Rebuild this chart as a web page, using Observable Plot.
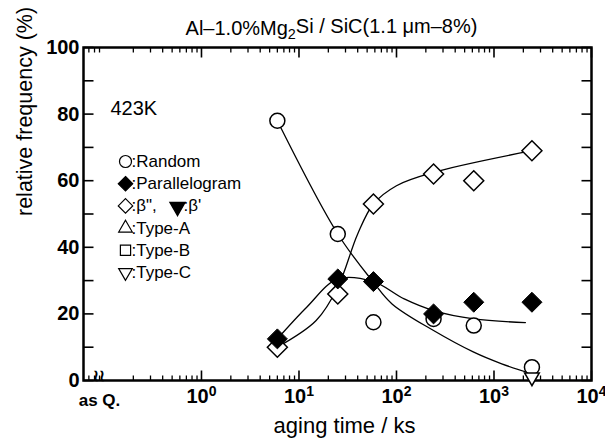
<!DOCTYPE html>
<html><head><meta charset="utf-8">
<script src="https://cdn.jsdelivr.net/npm/d3@7"></script>
<script src="https://cdn.jsdelivr.net/npm/@observablehq/plot@0.6"></script>
<style>body{margin:0;background:#fff} svg{display:block}</style>
</head><body><div id="chart"></div>
<script>
// ---- text ----
const title = "Al–1.0%Mg_2Si / SiC(1.1 μm–8%)";
const yLabel = "relative frequency (%)";
const xLabel = "aging time / ks";
const asQLabel = "as Q.";
const tempLabel = "423K";
// legend rows (row 3 carries a second entry)
const legendSymbols = ["circle", "diamond2", "diamond2", "triangle2", "square2", "triangle2"];
const legendFills = ["white", "black", "white", "white", "white", "white"];
const legendRotate = [0, 0, 0, 0, 0, 180];
const legendTexts = [":Random", ":Parallelogram", ":β\",", ":Type-A", ":Type-B", ":Type-C"];
const legendExtraText = ":β'";

// ---- measured data ----
const times = [6, 25, 58, 240, 620, 2450];
const randomV = [78, 44, 17.5, 18.5, 16.5, 4];
const paraV = [12.5, 30.5, 29.7, 20, 23.5, 23.5];
const betaV = [10, 26, 53, 62, 60, 69];
const typeCTimes = [2450];
const typeCV = [1];

// ---- hand-drawn fit curves ----
const randomFitT = [6, 25, 58, 90, 240, 620, 1200, 2450];
const randomFitV = [78, 44, 29.5, 23, 15, 8.5, 5, 2];
const paraFitT = [6, 12, 25, 58, 120, 240, 620, 2100];
const paraFitV = [12.5, 22, 30.5, 29.7, 24.5, 21, 18.5, 17.4];
const betaFitT = [6, 15, 25, 40, 58, 100, 240, 2450];
const betaFitV = [10, 18, 28, 44, 53, 58.5, 62.5, 69];

// ---- ticks ----
const yMajor = [0, 20, 40, 60, 80, 100];
const yMinor = [10, 30, 50, 70, 90];
const xMajor = [1, 10, 100, 1000, 10000];
const xDecades = [0.01, 0.1, 1, 10, 100, 1000];
const xMults = [2, 3, 4, 5, 6, 7, 8, 9];

const xMin = Math.pow(10, -1.21), xMax = 1e4;
const xMinor = xDecades.flatMap(d => xMults.map(m => m * d)).filter(v => v >= xMin && v <= xMax);

const W = 605, H = 444, ML = 83, MR = 14, MT = 47, MB = 64;

const zip = (a, b) => a.map((t, i) => ({t, v: b[i]}));
const FONT = "'Liberation Sans', Arial, Helvetica, sans-serif";
const NARROW = "'Liberation Sans Narrow', 'Arial Narrow', 'Liberation Sans', sans-serif";

// custom tick "symbols": a short segment drawn from the anchor point
const mkTick = (dx, dy) => ({draw(ctx) { ctx.moveTo(0, 0); ctx.lineTo(dx, dy); }});
const tickUpMaj = mkTick(0, -10), tickUpMin = mkTick(0, -5);
const tickDownMaj = mkTick(0, 10), tickDownMin = mkTick(0, 5);
const tickRight = mkTick(10, 0), tickLeft = mkTick(-10, 0);
const yAll = yMajor.concat(yMinor);
const tickStyle = {fill: "none", stroke: "black"};

const legendMarks = [];
const LX = 42, LY = 114, LS = 22.2;
legendSymbols.forEach((s, i) => {
  legendMarks.push(Plot.dot([0], {frameAnchor: "top-left", dx: LX, dy: LY + LS * i, symbol: s,
    r: s === "circle" ? 6 : 6.5, rotate: legendRotate[i], fill: legendFills[i], stroke: "black", strokeWidth: 1.2}));
  legendMarks.push(Plot.text([legendTexts[i]], {frameAnchor: "top-left", dx: LX + 6, dy: LY + LS * i,
    textAnchor: "start", lineAnchor: "middle", fontSize: 17, fontFamily: NARROW}));
});
legendMarks.push(Plot.dot([0], {frameAnchor: "top-left", dx: LX + 52, dy: LY + LS * 2 + 1, symbol: "triangle", rotate: 180,
  r: 5.5, fill: "black", stroke: "black"}));
legendMarks.push(Plot.text([legendExtraText], {frameAnchor: "top-left", dx: LX + 58, dy: LY + LS * 2,
  textAnchor: "start", lineAnchor: "middle", fontSize: 17, fontFamily: NARROW}));

const chart = Plot.plot({
  width: W, height: H,
  marginLeft: ML, marginRight: MR, marginTop: MT, marginBottom: MB,
  style: {fontFamily: FONT, fontSize: "18px", color: "black", background: "white", overflow: "visible"},
  x: {type: "log", domain: [xMin, xMax], axis: null},
  y: {domain: [0, 100], axis: null},
  marks: [
    Plot.frame({stroke: "black", strokeWidth: 2.5, fill: "none"}),
    // tick labels
    Plot.axisY(yMajor, {tickSize: 0, tickPadding: 4, fontSize: 20, fontWeight: "bold", label: null}),
    Plot.axisX(xMajor, {tickSize: 0, tickPadding: 8, fontSize: 20, fontWeight: "bold", label: null,
      tickFormat: d => "10^" + Math.round(Math.log10(d))}),
    // labels
    Plot.text([yLabel], {frameAnchor: "left", dx: -58, dy: 2, rotate: -90, fontSize: 21.5}),
    Plot.text([xLabel], {frameAnchor: "bottom", dx: 7, dy: 52, fontSize: 22}),
    Plot.text([asQLabel], {frameAnchor: "bottom-left", dx: 16, dy: 25, fontSize: 17, fontWeight: "bold", textAnchor: "middle"}),
    Plot.text(["≀≀"], {frameAnchor: "bottom-left", dx: 9, dy: 0, fontSize: 16, fill: "black", fontWeight: "bold", textAnchor: "start"}),
    Plot.text([title], {frameAnchor: "top", dx: -6, dy: -27, fontSize: 20}),
    Plot.text([tempLabel], {frameAnchor: "top-left", dx: 27, dy: 53, fontSize: 20, textAnchor: "start"}),
    ...legendMarks,
    // fit curves
    Plot.line(zip(randomFitT, randomFitV), {x: "t", y: "v", curve: "catmull-rom", stroke: "black", strokeWidth: 1.3}),
    Plot.line(zip(paraFitT, paraFitV), {x: "t", y: "v", curve: "catmull-rom", stroke: "black", strokeWidth: 1.3}),
    Plot.line(zip(betaFitT, betaFitV), {x: "t", y: "v", curve: "catmull-rom", stroke: "black", strokeWidth: 1.3}),
    // data points
    Plot.dot(zip(times, randomV), {x: "t", y: "v", symbol: "circle", r: 7.5, stroke: "black", fill: "white", strokeWidth: 1.5}),
    Plot.dot(zip(times, betaV), {x: "t", y: "v", symbol: "diamond2", r: 9, stroke: "black", fill: "white", strokeWidth: 1.5}),
    Plot.dot(zip(times, paraV), {x: "t", y: "v", symbol: "diamond2", r: 9, stroke: "black", fill: "black", strokeWidth: 1}),
    Plot.dot(zip(typeCTimes, typeCV), {x: "t", y: "v", symbol: "triangle2", rotate: 180, r: 7, stroke: "black", fill: "white", strokeWidth: 1.5}),
    // inward frame ticks (custom symbols anchored on the frame)
    Plot.dot(xMajor.map(x => ({x, y: 0})), {x: "x", y: "y", symbol: tickUpMaj, strokeWidth: 1.6, ...tickStyle}),
    Plot.dot(xMinor.map(x => ({x, y: 0})), {x: "x", y: "y", symbol: tickUpMin, strokeWidth: 1.3, ...tickStyle}),
    Plot.dot(xMajor.map(x => ({x, y: 100})), {x: "x", y: "y", symbol: tickDownMaj, strokeWidth: 1.6, ...tickStyle}),
    Plot.dot(xMinor.map(x => ({x, y: 100})), {x: "x", y: "y", symbol: tickDownMin, strokeWidth: 1.3, ...tickStyle}),
    Plot.dot(yAll.map(y => ({x: xMin, y})), {x: "x", y: "y", symbol: tickRight, strokeWidth: 1.6, ...tickStyle}),
    Plot.dot(yAll.map(y => ({x: xMax, y})), {x: "x", y: "y", symbol: tickLeft, strokeWidth: 1.6, ...tickStyle})
  ]
});

// post-process: superscripts / subscripts
d3.select(chart).selectAll("text").each(function() {
  const el = d3.select(this);
  const t = this.textContent;
  const m = /^10\^(-?\d+)$/.exec(t);
  if (m && this.children.length === 0) {
    el.text("10");
    el.append("tspan").attr("dy", "-0.5em").attr("font-size", "0.7em").text(m[1]);
  } else if (t === title && this.children.length === 0) {
    const [a, b] = t.split("_2");
    el.text(a);
    el.append("tspan").attr("dy", "0.3em").attr("font-size", "0.72em").text("2");
    el.append("tspan").attr("dy", "-0.3em").text(b);
  }
});

document.getElementById("chart").appendChild(chart);
</script>
</body></html>
